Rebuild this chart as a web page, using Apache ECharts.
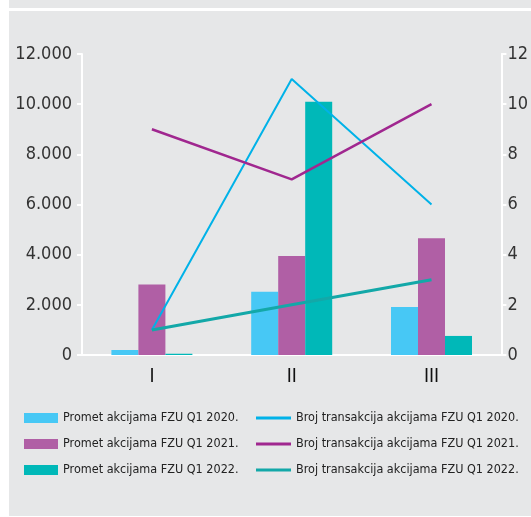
<!DOCTYPE html>
<html>
<head>
<meta charset="utf-8">
<script src="https://cdn.jsdelivr.net/npm/echarts@6/dist/echarts.min.js"></script>
<style>
  html, body { margin: 0; padding: 0; background: #fff; }
  #wrap { position: relative; width: 531px; height: 517px; }
  .bg1 { position: absolute; left: 9px; top: 0; width: 522px; height: 8px; background: #e6e7e8; }
  .bg2 { position: absolute; left: 9px; top: 11px; width: 522px; height: 505px; background: #e6e7e8; }
  #main { position: absolute; left: 0; top: 0; width: 531px; height: 517px; }
</style>
</head>
<body>
<div id="wrap">
  <div class="bg1"></div>
  <div class="bg2"></div>
  <div id="main"></div>
</div>
<script>
var categories = ['I', 'II', 'III'];
var promet2020 = [200, 2520, 1910];
var promet2021 = [2810, 3950, 4650];
var promet2022 = [50, 10100, 760];
var broj2020 = [1, 11, 6];
var broj2021 = [9, 7, 10];
var broj2022 = [1, 2, 3];

var font = '"Liberation Sans Narrow", "DejaVu Sans Condensed", sans-serif';

var myChart = echarts.init(document.getElementById('main'));
var legendText = { fontFamily: font, fontSize: 12.5, color: '#222', lineHeight: 16 };
var option = {
    backgroundColor: 'transparent',
    animation: false,
    textStyle: { fontFamily: font },
    grid: { left: 82, right: 28, top: 54, bottom: 162 },
    legend: [
        {
            orient: 'vertical',
            left: 24,
            top: 410,
            padding: 0,
            itemWidth: 34,
            itemHeight: 10,
            itemGap: 10,
            itemTextGap: 5,
            icon: 'rect',
            textStyle: legendText,
            data: ['Promet akcijama FZU Q1 2020.', 'Promet akcijama FZU Q1 2021.', 'Promet akcijama FZU Q1 2022.']
        },
        {
            orient: 'vertical',
            left: 256,
            top: 410,
            padding: 0,
            itemWidth: 35,
            itemHeight: 3,
            itemGap: 10,
            itemTextGap: 5,
            icon: 'rect',
            textStyle: legendText,
            data: ['Broj transakcija akcijama FZU Q1 2020.', 'Broj transakcija akcijama FZU Q1 2021.', 'Broj transakcija akcijama FZU Q1 2022.']
        }
    ],
    xAxis: [
        {
            type: 'category',
            data: categories,
            axisLine: { lineStyle: { color: '#fff', width: 2 } },
            axisTick: { show: false },
            axisLabel: { color: '#111', fontSize: 19, margin: 13, fontFamily: font }
        },
        {
            type: 'category',
            position: 'top',
            data: categories,
            axisLine: { lineStyle: { color: '#fff', width: 2 } },
            axisTick: { show: false },
            axisLabel: { show: false }
        }
    ],
    yAxis: [
        {
            type: 'value',
            min: 0,
            max: 12000,
            interval: 2000,
            axisLine: { show: true, lineStyle: { color: '#fff', width: 2 } },
            axisTick: { show: true, length: 5, lineStyle: { color: '#fff', width: 2 } },
            splitLine: { show: false },
            axisLabel: {
                color: '#333', fontSize: 18, margin: 10, fontFamily: font,
                formatter: function (v) { return String(v).replace(/\B(?=(\d{3})+(?!\d))/g, '.'); }
            }
        },
        {
            type: 'value',
            min: 0,
            max: 12,
            interval: 2,
            position: 'right',
            axisLine: { show: true, lineStyle: { color: '#fff', width: 2 } },
            axisTick: { show: true, length: 5, lineStyle: { color: '#fff', width: 2 } },
            splitLine: { show: false },
            axisLabel: { color: '#333', fontSize: 18, margin: 6, fontFamily: font }
        }
    ],
    series: [
        { name: 'Promet akcijama FZU Q1 2020.', type: 'bar', data: promet2020, barWidth: 27, barGap: '0%', itemStyle: { color: '#47c8f5' } },
        { name: 'Promet akcijama FZU Q1 2021.', type: 'bar', data: promet2021, barWidth: 27, barGap: '0%', itemStyle: { color: '#b05fa5' } },
        { name: 'Promet akcijama FZU Q1 2022.', type: 'bar', data: promet2022, barWidth: 27, barGap: '0%', itemStyle: { color: '#00b8b8' } },
        { name: 'Broj transakcija akcijama FZU Q1 2020.', type: 'line', yAxisIndex: 1, data: broj2020, symbol: 'none', lineStyle: { width: 2, color: '#00b2e8' }, itemStyle: { color: '#00b2e8' } },
        { name: 'Broj transakcija akcijama FZU Q1 2021.', type: 'line', yAxisIndex: 1, data: broj2021, symbol: 'none', lineStyle: { width: 2.5, color: '#a0278f' }, itemStyle: { color: '#a0278f' } },
        { name: 'Broj transakcija akcijama FZU Q1 2022.', type: 'line', yAxisIndex: 1, data: broj2022, symbol: 'none', lineStyle: { width: 3, color: '#13a8a8' }, itemStyle: { color: '#13a8a8' } }
    ]
};
myChart.setOption(option);
</script>
</body>
</html>
